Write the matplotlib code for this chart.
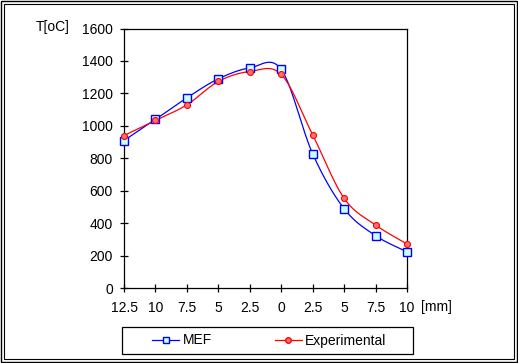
import numpy as np
import matplotlib
matplotlib.use("Agg")
import matplotlib.pyplot as plt
from matplotlib.patches import Rectangle

plt.rcParams['font.family'] = ['Liberation Sans', 'DejaVu Sans']

# distance labels along the piece (categorical axis)
x_labels = ["12.5", "10", "7.5", "5", "2.5", "0", "2.5", "5", "7.5", "10"]
mef = [910, 1040, 1173, 1290, 1357, 1348, 828, 490, 324, 225]
experimental = [941, 1034, 1130, 1274, 1335, 1317, 945, 554, 390, 273]


def smooth(xs, ys, n=30):
    # Catmull-Rom curve through the points, like a spreadsheet "smoothed line"
    xs = np.asarray(xs, float)
    ys = np.asarray(ys, float)
    px = np.concatenate([[xs[0]], xs, [xs[-1]]])
    py = np.concatenate([[ys[0]], ys, [ys[-1]]])
    out_x, out_y = [], []
    t = np.linspace(0, 1, n)
    for i in range(1, len(px) - 2):
        for p, out in ((px, out_x), (py, out_y)):
            p0, p1, p2, p3 = p[i - 1], p[i], p[i + 1], p[i + 2]
            m1 = (p2 - p0) / 2
            m2 = (p3 - p1) / 2
            h00 = 2 * t**3 - 3 * t**2 + 1
            h10 = t**3 - 2 * t**2 + t
            h01 = -2 * t**3 + 3 * t**2
            h11 = t**3 - t**2
            out.extend(h00 * p1 + h10 * m1 + h01 * p2 + h11 * m2)
    return np.array(out_x), np.array(out_y)


fig = plt.figure(figsize=(5.18, 3.63), dpi=100)
ax = fig.add_axes([124 / 518, 1 - 288.3 / 363, 283 / 518, 259.8 / 363])

x = np.arange(len(x_labels))

sx, sy = smooth(x, mef)
ax.plot(sx, sy, color="#0000ff", lw=0.9, zorder=3)
ax.plot(x, mef, ls="none", marker="s", ms=5.2, mfc="#c8ffff", mec="#0000ff",
        mew=1.0, zorder=4, clip_on=False)

sx, sy = smooth(x, experimental)
ax.plot(sx, sy, color="#ff0000", lw=0.9, zorder=3)
ax.plot(x, experimental, ls="none", marker="o", ms=4.3, mfc="#ff7070",
        mec="#ff0000", mew=0.8, zorder=5, clip_on=False)

ax.set_xlim(0, len(x_labels) - 1)
ax.set_ylim(0, 1600)
ax.set_yticks(range(0, 1601, 200))
ax.set_xticks(x)
ax.set_xticklabels(x_labels)
ax.tick_params(direction="inout", length=6, width=0.9, labelsize=10,
               colors="black")
ax.tick_params(axis="x", pad=6)
ax.tick_params(axis="y", pad=5)
for sp in ax.spines.values():
    sp.set_linewidth(0.9)

fig.text(36 / 518, 1 - 27 / 363, "T[oC]", fontsize=10, ha="left", va="center")
fig.text(421 / 518, 1 - 307 / 363, "[mm]", fontsize=10, ha="left", va="center")

# legend: entries without frame, then a plain box around them
handles = [
    plt.Line2D([], [], color="#0000ff", lw=0.9, marker="s", ms=4.5,
               mfc="#c8ffff", mec="#0000ff"),
    plt.Line2D([], [], color="#ff0000", lw=0.9, marker="o", ms=4,
               mfc="#ff7070", mec="#ff0000"),
]
fig.legend(handles, ["MEF", "Experimental"], ncol=2, frameon=False,
           loc="center", bbox_to_anchor=(269.5 / 518, 1 - 340.5 / 363),
           fontsize=10, handlelength=1.95, handletextpad=0.25,
           columnspacing=4.5, borderpad=0)
fig.patches.append(Rectangle((122 / 518, 1 - 354 / 363), 291 / 518, 27 / 363,
                             transform=fig.transFigure, fill=False,
                             ec="black", lw=0.9))

# double outer border
fig.patches.append(Rectangle((1 / 518, 1 / 363), 516 / 518, 361 / 363,
                             transform=fig.transFigure, fill=False,
                             ec="black", lw=1.0))
fig.patches.append(Rectangle((4 / 518, 4 / 363), 510 / 518, 355 / 363,
                             transform=fig.transFigure, fill=False,
                             ec="black", lw=0.8))

fig.savefig("out.png", dpi=100)
